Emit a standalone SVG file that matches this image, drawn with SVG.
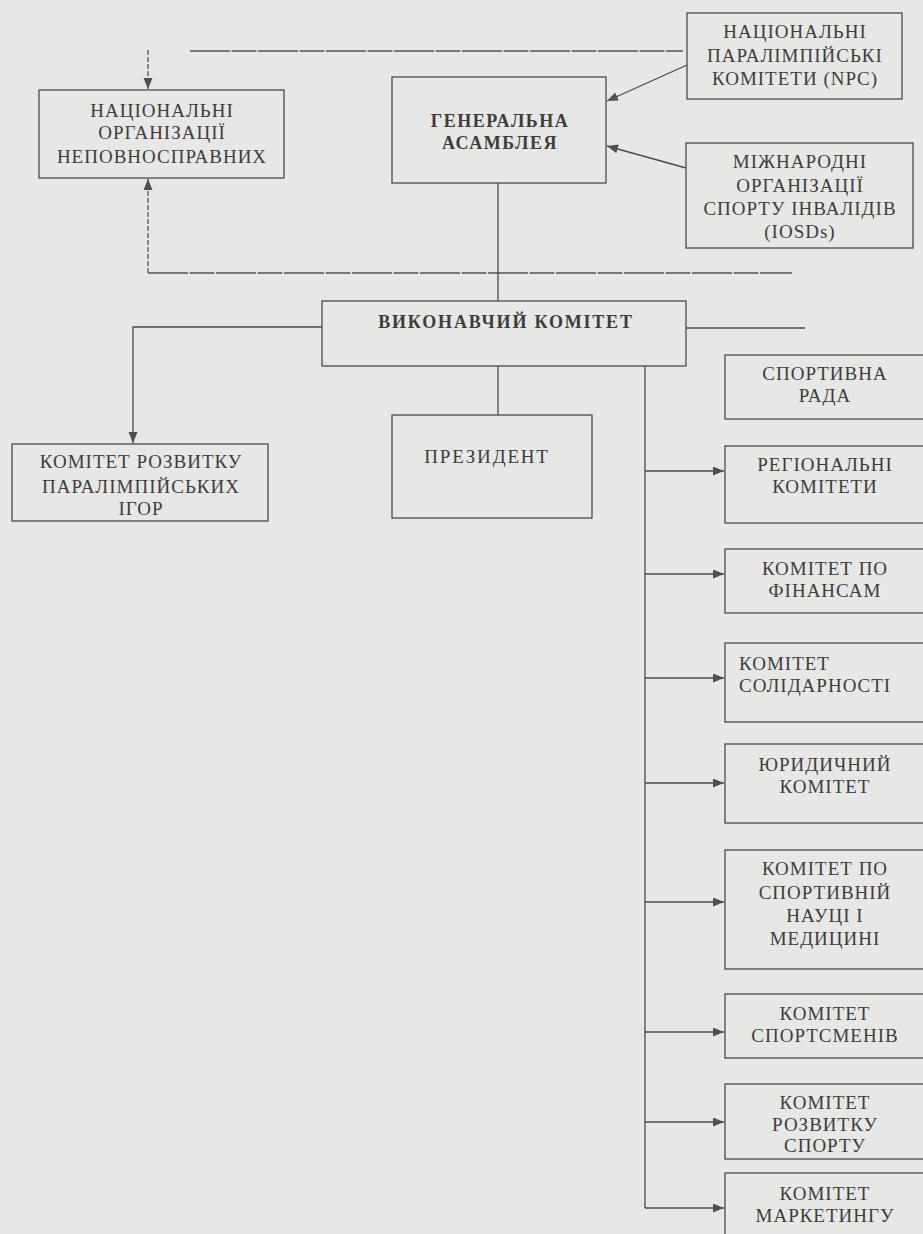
<svg xmlns="http://www.w3.org/2000/svg" width="923" height="1234" viewBox="0 0 923 1234">
<defs>
<marker id="arr" markerUnits="userSpaceOnUse" markerWidth="12" markerHeight="10" refX="11" refY="4.5" orient="auto">
<path d="M0,0 L11,4.5 L0,9 z" fill="#505050"/>
</marker>
<style>
.bg{fill:#e7e7e5}
.box{fill:none;stroke:#4a4a4a;stroke-width:1.3}
.ln{fill:none;stroke:#4a4a4a;stroke-width:1.3}
.dash{fill:none;stroke:#555;stroke-width:1.3;stroke-dasharray:5 2}
.faint{fill:none;stroke:#555;stroke-width:1.3;stroke-dasharray:40 1.5 25 1.5}
text{font-family:"Liberation Serif","Times New Roman",serif;font-size:19px;fill:#3d3d3d;letter-spacing:1px;text-anchor:middle}
.b{font-weight:bold;font-size:18px}
.l{text-anchor:start}
</style>
</defs>
<rect class="bg" x="0" y="0" width="923" height="1234"/>

<g id="connectors">
<path class="faint" d="M190,51 H683"/>
<path class="dash" d="M148,50 V89" marker-end="url(#arr)"/>
<path class="faint" d="M148,273 H792"/>
<path class="dash" d="M148,273 V179" marker-end="url(#arr)"/>
<path class="ln" d="M687,65 L607,101" marker-end="url(#arr)"/>
<path class="ln" d="M686,168 L607,146" marker-end="url(#arr)"/>
<path class="ln" d="M498,183 V301"/>
<path class="ln" d="M322,327 H133 V443" marker-end="url(#arr)"/>
<path class="ln" d="M686,328 H805"/>
<path class="ln" d="M498,366 V415"/>
<path class="ln" d="M645,366 V1208"/>
<path class="ln" d="M645,471 H724" marker-end="url(#arr)"/>
<path class="ln" d="M645,574 H724" marker-end="url(#arr)"/>
<path class="ln" d="M645,678 H724" marker-end="url(#arr)"/>
<path class="ln" d="M645,783 H724" marker-end="url(#arr)"/>
<path class="ln" d="M645,902 H724" marker-end="url(#arr)"/>
<path class="ln" d="M645,1032 H724" marker-end="url(#arr)"/>
<path class="ln" d="M645,1122 H724" marker-end="url(#arr)"/>
<path class="ln" d="M645,1208 H724" marker-end="url(#arr)"/>
</g>

<g id="nat-org">
<rect class="box" x="39" y="90" width="245" height="88"/>
<text x="162" y="117">НАЦІОНАЛЬНІ</text>
<text x="162" y="139">ОРГАНІЗАЦІЇ</text>
<text x="162" y="163">НЕПОВНОСПРАВНИХ</text>
</g>

<g id="general-assembly">
<rect class="box" x="392" y="77" width="214" height="106"/>
<text class="b" x="500" y="127" style="letter-spacing:1.5px">ГЕНЕРАЛЬНА</text>
<text class="b" x="500" y="149" style="letter-spacing:1.5px">АСАМБЛЕЯ</text>
</g>

<g id="npc">
<rect class="box" x="687" y="13" width="215" height="86"/>
<text x="795" y="38">НАЦІОНАЛЬНІ</text>
<text x="795" y="62">ПАРАЛІМПІЙСЬКІ</text>
<text x="795" y="85">КОМІТЕТИ (NPC)</text>
</g>

<g id="iosd">
<rect class="box" x="686" y="143" width="227" height="105"/>
<text x="800" y="168">МІЖНАРОДНІ</text>
<text x="800" y="192">ОРГАНІЗАЦІЇ</text>
<text x="800" y="215">СПОРТУ ІНВАЛІДІВ</text>
<text x="800" y="238">(IOSDs)</text>
</g>

<g id="executive">
<rect class="box" x="322" y="301" width="364" height="65"/>
<text class="b" x="506" y="328" style="letter-spacing:1.8px">ВИКОНАВЧИЙ КОМІТЕТ</text>
</g>

<g id="games-committee">
<rect class="box" x="12" y="444" width="256" height="77"/>
<text x="141" y="468">КОМІТЕТ РОЗВИТКУ</text>
<text x="141" y="493">ПАРАЛІМПІЙСЬКИХ</text>
<text x="141" y="515">ІГОР</text>
</g>

<g id="president">
<rect class="box" x="392" y="415" width="200" height="103"/>
<text x="487" y="463" style="letter-spacing:1.8px">ПРЕЗИДЕНТ</text>
</g>

<g id="sport-council">
<rect class="box" x="725" y="355" width="205" height="64"/>
<text x="825" y="380">СПОРТИВНА</text>
<text x="825" y="402">РАДА</text>
</g>

<g id="regional">
<rect class="box" x="725" y="446" width="205" height="77"/>
<text x="825" y="471">РЕГІОНАЛЬНІ</text>
<text x="825" y="493">КОМІТЕТИ</text>
</g>

<g id="finance">
<rect class="box" x="725" y="549" width="205" height="64"/>
<text x="825" y="575">КОМІТЕТ ПО</text>
<text x="825" y="597">ФІНАНСАМ</text>
</g>

<g id="solidarity">
<rect class="box" x="725" y="643" width="205" height="79"/>
<text class="l" x="739" y="670">КОМІТЕТ</text>
<text class="l" x="739" y="692">СОЛІДАРНОСТІ</text>
</g>

<g id="legal">
<rect class="box" x="725" y="744" width="205" height="79"/>
<text x="825" y="771">ЮРИДИЧНИЙ</text>
<text x="825" y="793">КОМІТЕТ</text>
</g>

<g id="science">
<rect class="box" x="725" y="850" width="205" height="119"/>
<text x="825" y="875">КОМІТЕТ ПО</text>
<text x="825" y="899">СПОРТИВНІЙ</text>
<text x="825" y="922">НАУЦІ І</text>
<text x="825" y="945">МЕДИЦИНІ</text>
</g>

<g id="athletes">
<rect class="box" x="725" y="994" width="205" height="64"/>
<text x="825" y="1020">КОМІТЕТ</text>
<text x="825" y="1042">СПОРТСМЕНІВ</text>
</g>

<g id="sport-dev">
<rect class="box" x="725" y="1084" width="205" height="75"/>
<text x="825" y="1109">КОМІТЕТ</text>
<text x="825" y="1131">РОЗВИТКУ</text>
<text x="825" y="1152">СПОРТУ</text>
</g>

<g id="marketing">
<rect class="box" x="725" y="1173" width="205" height="70"/>
<text x="825" y="1200">КОМІТЕТ</text>
<text x="825" y="1222">МАРКЕТИНГУ</text>
</g>
</svg>
